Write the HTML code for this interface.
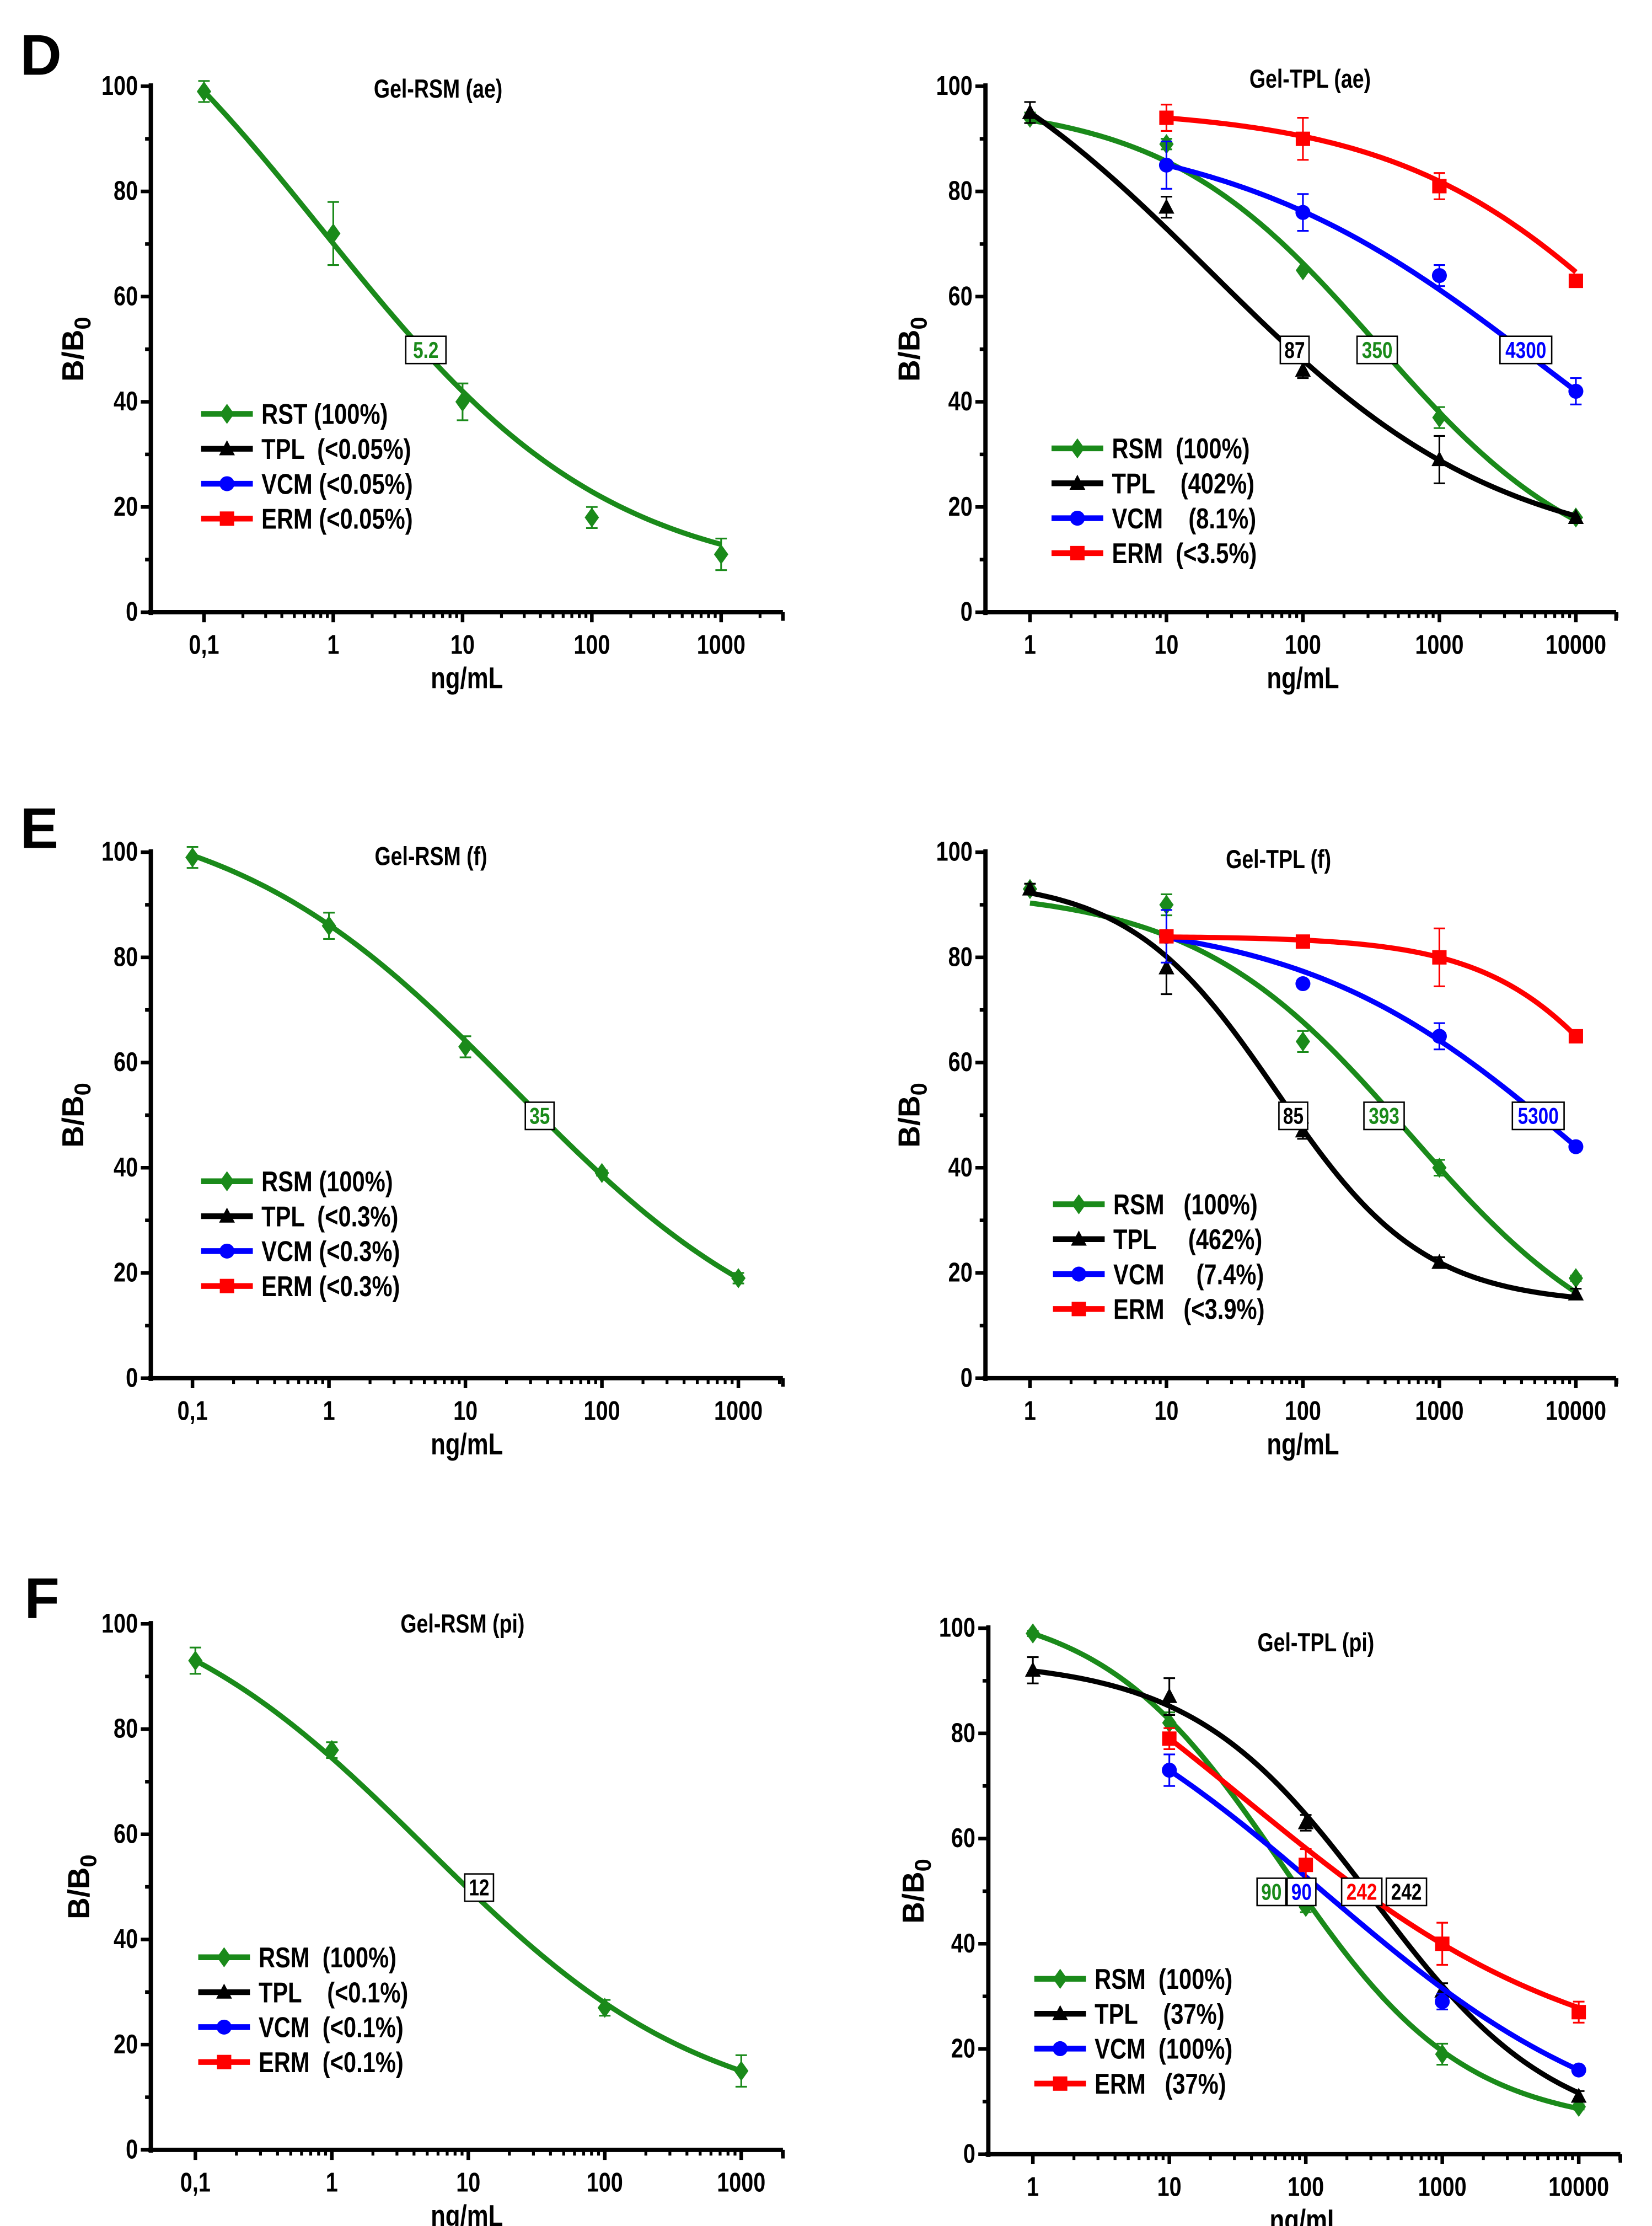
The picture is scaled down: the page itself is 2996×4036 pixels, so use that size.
<!DOCTYPE html>
<html><head><meta charset="utf-8"><style>
html,body{margin:0;padding:0;background:#fff}
svg{display:block}
text{font-family:"Liberation Sans",sans-serif;font-weight:bold;white-space:pre}
</style></head><body>
<svg id="fig" width="2996" height="4036" viewBox="0 0 1150 1549" preserveAspectRatio="none" xmlns="http://www.w3.org/2000/svg">
<rect width="1150" height="1549" fill="#fff"/>
<text x="14" y="52" font-size="40">D</text>
<text x="14" y="590" font-size="40">E</text>
<text x="17" y="1126" font-size="40">F</text>
</svg>
<script>
// ---- data: x concentrations ----
const xLeft=[0.1,1,10,100,1000];
const xRight=[1,10,100,1000,10000];
const xRight4=[10,100,1000,10000];

// ---- data: measured points and error bars ----
const dL_rsm=[99,72,40,18,11], dL_rsm_err=[2,6,3.5,2,3];
const dR_rsm=[94,89,65,37,18], dR_rsm_err=[1,1,0,2,0];
const dR_tpl=[95,77,46,29,18], dR_tpl_err=[2,2,1.5,4.5,0];
const dR_vcm=[85,76,64,42], dR_vcm_err=[4.5,3.5,2,2.5];
const dR_erm=[94,90,81,63], dR_erm_err=[2.5,4,2.5,0];

const eL_rsm=[99,86,63,39,19], eL_rsm_err=[2,2.5,2,0.5,1];
const eR_rsm=[93,90,64,40,19], eR_rsm_err=[1,2,2,1.5,0.5];
const eR_tpl=[93,78,47,22,16], eR_tpl_err=[1,5,1.5,1,1];
const eR_vcm=[84,75,65,44], eR_vcm_err=[5,0.5,2.5,0.5];
const eR_erm=[84,83,80,65], eR_erm_err=[0.5,1,5.5,0.5];

const fL_x=[0.1,1,100,1000];
const fL_rsm=[93,76,27,15], fL_rsm_err=[2.5,1.5,1.5,3];
const fR_rsm=[99,82,47,19,9], fR_rsm_err=[0.5,2,1,2,0.5];
const fR_tpl=[92,87,63,31,11], fR_tpl_err=[2.5,3.5,1.5,1.5,1];
const fR_vcm=[73,49,29,16], fR_vcm_err=[3,1.5,1.5,0.5];
const fR_erm=[79,55,40,27], fR_erm_err=[2,3,4,2];

// ---- fitted 4PL curve parameters [top, bottom, midpoint, slope] ----
const fitDL_rsm=[140,5,0.833,0.392];
const fitDR_rsm=[97,5,350,0.553], fitDR_tpl=[120,10,20.5,0.405], fitDR_vcm=[93,0,5960,0.37], fitDR_erm=[96,0,50000,0.45];
const fitEL_rsm=[110,0,22.5,0.413];
const fitER_rsm=[93,0,600,0.55], fitER_tpl=[95,14,64,0.805], fitER_vcm=[88,0,10060,0.43], fitER_erm=[84,0,49900,0.766];
const fitFL_rsm=[110,5,4.9,0.423];
const fitFR_rsm=[105,5,67,0.653], fitFR_tpl=[94,3,311,0.65], fitFR_vcm=[100,0,133,0.384], fitFR_erm=[120,15,35.8,0.35];

const yTicks=[0,20,40,60,80,100];
const leftTickLabels=["0,1","1","10","100","1000"];
const rightTickLabels=["1","10","100","1000","10000"];

const C={RSM:"#1a8a1a",TPL:"#000",VCM:"#0000ff",ERM:"#ff0000"};
const SX=0.8;
const svg=document.getElementById('fig');
const NS="http://www.w3.org/2000/svg";
function el(tag,attrs,parent){const e=document.createElementNS(NS,tag);for(const k in attrs)e.setAttribute(k,attrs[k]);(parent||svg).appendChild(e);return e;}
function txt(x,y,s,size,anchor,parent,fill){const t=el('text',{transform:`translate(${x},${y}) scale(${SX},1)`,'font-size':size,'text-anchor':anchor||'start',fill:fill||'#000'},parent);t.textContent=s;return t;}
function fpl(p,x){return p[1]+(p[0]-p[1])/(1+Math.pow(x/p[2],p[3]));}

function panel(cfg){
  const g=el('g',{});
  
  
  const X=v=>cfg.ox0+(Math.log10(v)-Math.log10(cfg.xmin))*cfg.dec;
  const Y=v=>cfg.y0+(cfg.y100-cfg.y0)*v/100;
  const ya=el('line',{x1:cfg.ax,y1:cfg.y100-2,x2:cfg.ax,y2:cfg.y0+2,stroke:'#000','stroke-width':3},g);
  
  const xa=el('line',{x1:cfg.ax-2,y1:cfg.y0,x2:cfg.xend,y2:cfg.y0,stroke:'#000','stroke-width':3},g);
  
  for(let v=0;v<=100;v+=10){const maj=v%20===0;el('line',{x1:cfg.ax-(maj?7:4),y1:Y(v),x2:cfg.ax,y2:Y(v),stroke:'#000','stroke-width':2.5},g);}
  yTicks.forEach(v=>{const t=txt(cfg.ax-9,Y(v)+6,String(v),19,'end',g);
    });
  const lmin=Math.log10(cfg.xmin);
  for(let d=lmin;d<=lmin+5;d++){
    for(let m=1;m<=9;m++){const v=m*Math.pow(10,d);const px=X(v);if(px>cfg.xend+1)continue;
      el('line',{x1:px,y1:cfg.y0,x2:px,y2:cfg.y0+(m===1?7:4),stroke:'#000','stroke-width':m===1?2.5:2},g);}
  }
  el('line',{x1:cfg.xend,y1:cfg.y0,x2:cfg.xend,y2:cfg.y0+6,stroke:'#000','stroke-width':2.5},g);
  cfg.xt.forEach((v,i)=>{const t=txt(X(v),cfg.y0+29,cfg.xtl[i],19,'middle',g);
    });
  const xl=txt(cfg.xlx,cfg.y0+53,'ng/mL',21,'middle',g);
  
  const yl=el('text',{transform:`translate(${cfg.ylx},${(cfg.y0+cfg.y100)/2}) rotate(-90)`,'font-size':21,'text-anchor':'middle'},g);
  yl.innerHTML='B/B<tspan font-size="16" dy="5">0</tspan>';
  
  const tt=txt(cfg.tx,cfg.ty,cfg.title,18,'middle',g);
  
  cfg.series.forEach(s=>{
    const col=C[s.k];
    const a=Math.log10(s.x0),b=Math.log10(s.x1);let d='';
    for(let i=0;i<=120;i++){const lx=a+(b-a)*i/120;const v=Math.pow(10,lx);d+=(i?'L':'M')+X(v).toFixed(2)+','+Y(fpl(s.fit,v)).toFixed(2);}
    const ln=el('path',{d:d,fill:'none',stroke:col,'stroke-width':3.6,'stroke-linejoin':'round'},g);
    
    s.x.forEach((v,i)=>{
      const px=X(v),py=Y(s.y[i]),e=s.e[i];
      if(e>0){el('line',{x1:px,y1:Y(s.y[i]+e),x2:px,y2:Y(s.y[i]-e),stroke:col,'stroke-width':1.2},g);
        el('line',{x1:px-4,y1:Y(s.y[i]+e),x2:px+4,y2:Y(s.y[i]+e),stroke:col,'stroke-width':1.2},g);
        el('line',{x1:px-4,y1:Y(s.y[i]-e),x2:px+4,y2:Y(s.y[i]-e),stroke:col,'stroke-width':1.2},g);}
      const mk=marker(s.k,px,py,g);
      
    });
  });
  cfg.labels.forEach(l=>{
    const px=X(l.x),py=Y(50);const w=l.t.length*8+4;
    el('rect',{x:px-w/2,y:py-9,width:w,height:19,fill:'#fff',stroke:'#000','stroke-width':1},g);
    const t=txt(px,py+6,l.t,16,'middle',g,C[l.k]);
    
  });
  cfg.legend.forEach((L,i)=>{
    const y=cfg.ly+i*24.3;const col=C[L.k];
    const lg=el('g',{},g);
    
    el('line',{x1:cfg.lx,y1:y,x2:cfg.lx+36,y2:y,stroke:col,'stroke-width':4},lg);
    marker(L.k,cfg.lx+18,y,lg);
    txt(cfg.lx+42,y+7,L.t,20,'start',lg);
  });
}
function marker(k,x,y,g){
  const col=C[k];
  if(k==='RSM')return el('path',{d:`M${x},${y-7}L${x+5},${y}L${x},${y+7}L${x-5},${y}Z`,fill:col},g);
  if(k==='TPL')return el('path',{d:`M${x},${y-6}L${x+5.5},${y+4.5}L${x-5.5},${y+4.5}Z`,fill:col},g);
  if(k==='VCM')return el('circle',{cx:x,cy:y,r:5.2,fill:col},g);
  return el('rect',{x:x-5,y:y-5,width:10,height:10,fill:col},g);
}
const S=(k,x,y,e,fit,x0,x1)=>({k,x,y,e,fit,x0:x0||x[0],x1:x1||x[x.length-1]});

panel({name:'chart-gel-rsm-ae',ax:105,ox0:142,xmin:0.1,dec:90,y0:426,y100:60,xend:545,xt:xLeft,xtl:leftTickLabels,xlx:325,ylx:58,title:'Gel-RSM (ae)',tx:305,ty:68,
  series:[S('RSM',xLeft,dL_rsm,dL_rsm_err,fitDL_rsm)],labels:[{x:5.2,t:'5.2',k:'RSM'}],
  lx:140,ly:288,legend:[{k:'RSM',t:'RST (100%)'},{k:'TPL',t:'TPL  (<0.05%)'},{k:'VCM',t:'VCM (<0.05%)'},{k:'ERM',t:'ERM (<0.05%)'}]});
panel({name:'chart-gel-tpl-ae',ax:686,ox0:717,xmin:1,dec:95,y0:426,y100:60,xend:1125,xt:xRight,xtl:rightTickLabels,xlx:907,ylx:640,title:'Gel-TPL (ae)',tx:912,ty:61,
  series:[S('RSM',xRight,dR_rsm,dR_rsm_err,fitDR_rsm),S('TPL',xRight,dR_tpl,dR_tpl_err,fitDR_tpl),S('VCM',xRight4,dR_vcm,dR_vcm_err,fitDR_vcm),S('ERM',xRight4,dR_erm,dR_erm_err,fitDR_erm)],
  labels:[{x:87,t:'87',k:'TPL'},{x:350,t:'350',k:'RSM'},{x:4300,t:'4300',k:'VCM'}],
  lx:732,ly:312,legend:[{k:'RSM',t:'RSM  (100%)'},{k:'TPL',t:'TPL    (402%)'},{k:'VCM',t:'VCM    (8.1%)'},{k:'ERM',t:'ERM  (<3.5%)'}]});
panel({name:'chart-gel-rsm-f',ax:105,ox0:134,xmin:0.1,dec:95,y0:959,y100:593,xend:545,xt:xLeft,xtl:leftTickLabels,xlx:325,ylx:58,title:'Gel-RSM (f)',tx:300,ty:602,
  series:[S('RSM',xLeft,eL_rsm,eL_rsm_err,fitEL_rsm)],labels:[{x:35,t:'35',k:'RSM'}],
  lx:140,ly:822,legend:[{k:'RSM',t:'RSM (100%)'},{k:'TPL',t:'TPL  (<0.3%)'},{k:'VCM',t:'VCM (<0.3%)'},{k:'ERM',t:'ERM (<0.3%)'}]});
panel({name:'chart-gel-tpl-f',ax:686,ox0:717,xmin:1,dec:95,y0:959,y100:593,xend:1125,xt:xRight,xtl:rightTickLabels,xlx:907,ylx:640,title:'Gel-TPL (f)',tx:890,ty:604,
  series:[S('RSM',xRight,eR_rsm,eR_rsm_err,fitER_rsm),S('TPL',xRight,eR_tpl,eR_tpl_err,fitER_tpl),S('VCM',xRight4,eR_vcm,eR_vcm_err,fitER_vcm),S('ERM',xRight4,eR_erm,eR_erm_err,fitER_erm)],
  labels:[{x:85,t:'85',k:'TPL'},{x:393,t:'393',k:'RSM'},{x:5300,t:'5300',k:'VCM'}],
  lx:733,ly:838,legend:[{k:'RSM',t:'RSM   (100%)'},{k:'TPL',t:'TPL     (462%)'},{k:'VCM',t:'VCM     (7.4%)'},{k:'ERM',t:'ERM   (<3.9%)'}]});
panel({name:'chart-gel-rsm-pi',ax:105,ox0:136,xmin:0.1,dec:95,y0:1496,y100:1130,xend:545,xt:xLeft,xtl:leftTickLabels,xlx:325,ylx:62,title:'Gel-RSM (pi)',tx:322,ty:1136,
  series:[S('RSM',fL_x,fL_rsm,fL_rsm_err,fitFL_rsm)],labels:[{x:12,t:'12',k:'TPL'}],
  lx:138,ly:1362,legend:[{k:'RSM',t:'RSM  (100%)'},{k:'TPL',t:'TPL    (<0.1%)'},{k:'VCM',t:'VCM  (<0.1%)'},{k:'ERM',t:'ERM  (<0.1%)'}]});
panel({name:'chart-gel-tpl-pi',ax:688,ox0:719,xmin:1,dec:95,y0:1499,y100:1133,xend:1128,xt:xRight,xtl:rightTickLabels,xlx:909,ylx:643,title:'Gel-TPL (pi)',tx:916,ty:1149,
  series:[S('RSM',xRight,fR_rsm,fR_rsm_err,fitFR_rsm),S('TPL',xRight,fR_tpl,fR_tpl_err,fitFR_tpl),S('VCM',xRight4,fR_vcm,fR_vcm_err,fitFR_vcm),S('ERM',xRight4,fR_erm,fR_erm_err,fitFR_erm)],
  labels:[{x:56,t:'90',k:'RSM'},{x:93,t:'90',k:'VCM'},{x:257,t:'242',k:'ERM'},{x:546,t:'242',k:'TPL'}],
  lx:720,ly:1377,legend:[{k:'RSM',t:'RSM  (100%)'},{k:'TPL',t:'TPL    (37%)'},{k:'VCM',t:'VCM  (100%)'},{k:'ERM',t:'ERM   (37%)'}]});
</script>
</body></html>
